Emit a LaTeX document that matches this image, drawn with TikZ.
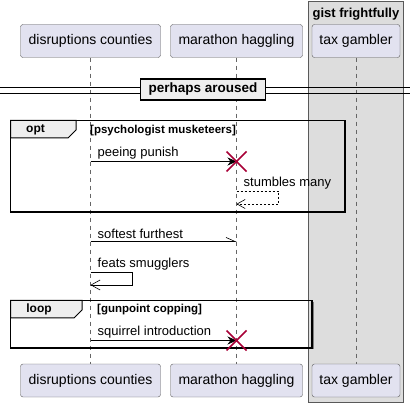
\documentclass[tikz,border=0pt]{standalone}
\usepackage{fontspec}
\setmainfont{Liberation Sans}
\usetikzlibrary{arrows.meta,positioning}
\definecolor{partfill}{HTML}{E2E2F0}
\definecolor{partline}{HTML}{5A5A5A}
\definecolor{boxgray}{HTML}{DDDDDD}
\definecolor{tabgray}{HTML}{EEEEEE}
\definecolor{killred}{HTML}{A80036}
\tikzset{
  part/.style={draw=partline, fill=partfill, rounded corners=2.5pt, minimum height=33,
               inner sep=0pt, font=\fontsize{14}{16}\selectfont},
  life/.style={draw=gray!80!black, dash pattern=on 4pt off 4pt, line width=0.5pt},
  msg/.style={line width=0.6pt},
  msglabel/.style={anchor=south west, inner sep=0pt, font=\fontsize{13}{15}\selectfont},
  frame/.style={draw=black, line width=1.4pt},
  tab/.style={fill=tabgray, draw=black, line width=1pt},
  guard/.style={anchor=west, inner sep=0pt, font=\bfseries\fontsize{11.5}{13}\selectfont},
}
\newcommand{\killmark}[1]{\draw[killred,line width=1.5pt] ([shift={(-10,-10)}]#1) -- ([shift={(10,10)}]#1)
                            ([shift={(-10,10)}]#1) -- ([shift={(10,-10)}]#1);}

\begin{document}
\begin{tikzpicture}[x=1pt, y=-1pt]
    \useasboundingbox (0,0) rectangle (410,406);
    % group box
    \draw[fill=boxgray, draw=gray!70!black] (308.5,1.5) rectangle (403.5,402);
    \node[font=\bfseries\fontsize{13}{15}\selectfont] (grp) at (356,14) {gist frightfully};
    % participants
    \node[part, minimum width=140] (dc) at (90.5,41) {disruptions counties};
    \node[part, minimum width=132] (mh) at (236.5,41) {marathon haggling};
    \node[part, minimum width=88] (tg) at (356,41) {tax gambler};
    \node[part, minimum width=140] (dcb) at (90.5,380.5) {disruptions counties};
    \node[part, minimum width=132] (mhb) at (236.5,380.5) {marathon haggling};
    \node[part, minimum width=88] (tgb) at (356,380.5) {tax gambler};
    \draw[life] (dc) -- (dcb);
    \draw[life] (mh) -- (mhb);
    \draw[life] (tg) -- (tgb);
    % divider
    \draw[line width=0.8pt] (0,87.5) -- (410,87.5) (0,93.5) -- (410,93.5);
    \node[draw, line width=1.5pt, fill=tabgray, minimum width=125, minimum height=21,
          font=\bfseries\fontsize{13.5}{15}\selectfont] (sep) at (203,89.5) {perhaps aroused};
    % opt frame
    \draw[frame] (10.5,120.5) rectangle (345,212);
    \draw[tab] (10.5,120.5) -- (76,120.5) -- (76,130) -- (68,138) -- (10.5,138) -- cycle;
    \node[font=\bfseries\fontsize{12}{14}\selectfont] (opt) at (35.5,129.5) {opt};
    \node[guard] (g1) at (90,131) {[psychologist musketeers]};
    \coordinate (m1a) at (dc |- 0,161.5);
    \coordinate (m1b) at (mh |- 0,161.5);
    \draw[msg, -{Stealth[length=9pt, width=8pt, inset=3pt]}] (m1a) -- (m1b);
    \node[msglabel] (l1) at ([shift={(7,-2.5)}]m1a) {peeing punish};
    \killmark{m1b}
    \coordinate (m2a) at (mh |- 0,191);
    \coordinate (m2b) at (mh |- 0,204);
    \draw[msg, dashed, dash pattern=on 2pt off 2pt, -{Straight Barb[length=8pt, width=9pt, line width=0.6pt]}]
        (m2a) -- ++(42,0) |- (m2b);
    \node[msglabel] (l2) at ([shift={(7,-1.5)}]m2a) {stumbles many};
    % plain messages
    \coordinate (m3a) at (dc |- 0,241.5);
    \coordinate (m3b) at (mh |- 0,241.5);
    \draw[msg, -{Straight Barb[left, length=9pt, width=8pt, line width=0.6pt]}] (m3a) -- (m3b);
    \node[msglabel] (l3) at ([shift={(7,-2.5)}]m3a) {softest furthest};
    \coordinate (m4a) at (dc |- 0,272);
    \coordinate (m4b) at (dc |- 0,285);
    \draw[msg, -{Straight Barb[length=9pt, width=10pt, line width=0.6pt]}] (m4a) -- ++(42,0) |- (m4b);
    \node[msglabel] (l4) at ([shift={(7,-2)}]m4a) {feats smugglers};
    % loop frame
    \draw[frame] (10.5,300.5) rectangle (312,348);
    \draw[gray, line width=1pt] (313.5,302) -- (313.5,349.5);
    \draw[tab] (10.5,300.5) -- (82,300.5) -- (82,310) -- (74,318) -- (10.5,318) -- cycle;
    \node[font=\bfseries\fontsize{12}{14}\selectfont] (lp) at (39,309.5) {loop};
    \node[guard] (g2) at (97,310) {[gunpoint copping]};
    \coordinate (m5a) at (dc |- 0,340.5);
    \coordinate (m5b) at (mh |- 0,340.5);
    \draw[msg, -{Stealth[length=9pt, width=8pt, inset=3pt]}] (m5a) -- (m5b);
    \node[msglabel] (l5) at ([shift={(7,-2.5)}]m5a) {squirrel introduction};
    \killmark{m5b}
\end{tikzpicture}
\end{document}
